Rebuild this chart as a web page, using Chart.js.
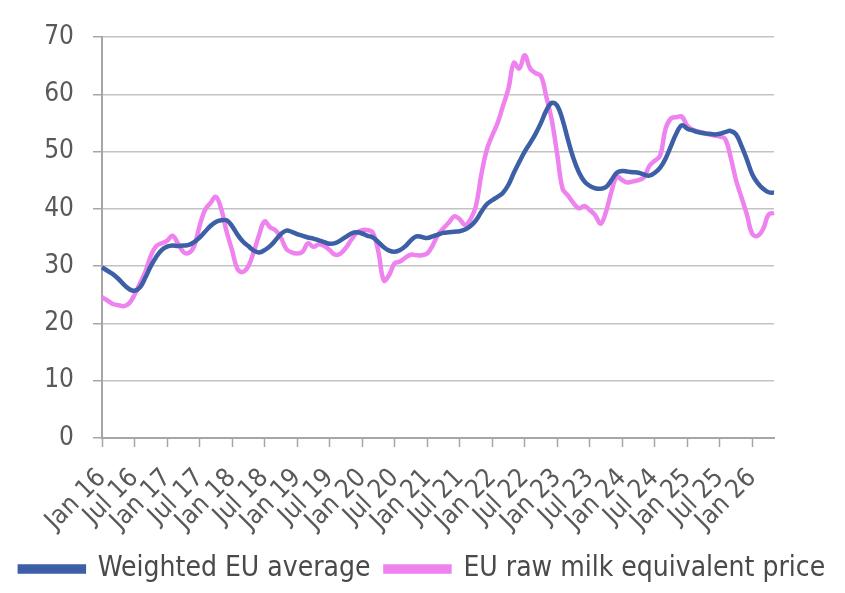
<!DOCTYPE html>
<html>
<head>
<meta charset="utf-8">
<script src="https://cdn.jsdelivr.net/npm/chart.js@4/dist/chart.umd.min.js"></script>
<style>
html,body{margin:0;padding:0;background:#fff;}
#wrap{width:845px;height:593px;position:relative;}
</style>
</head>
<body>
<div id="wrap"><canvas id="c" width="845" height="593"></canvas></div>
<script>
// Month names and years used to build monthly category labels (Jan 16 .. May 26)
const monthNames = ["Jan","Feb","Mar","Apr","May","Jun","Jul","Aug","Sep","Oct","Nov","Dec"];
const years = ["16","17","18","19","20","21","22","23","24","25","26"];
const lastMonthOfLastYear = 5; // data runs through May 26

// Weighted EU average (monthly)
const weightedEU = [
 29.8,29.2,28.6,27.8,26.8,26.0,25.7,26.3,28.0,30.0,31.6,32.8,
 33.4,33.6,33.5,33.6,33.7,34.2,35.0,36.0,37.0,37.7,38.0,38.0,
 37.0,35.5,34.3,33.5,32.7,32.4,32.8,33.5,34.5,35.6,36.2,36.0,
 35.6,35.3,35.0,34.8,34.5,34.2,33.9,34.0,34.5,35.1,35.7,35.9,
 35.7,35.3,35.0,34.2,33.3,32.7,32.5,32.8,33.5,34.5,35.2,35.1,
 34.9,35.2,35.5,35.8,35.9,36.0,36.1,36.4,37.0,38.0,39.5,40.8,
 41.5,42.1,42.8,44.2,46.3,48.2,50.0,51.5,53.1,55.0,57.2,58.5,
 58.0,55.5,52.0,48.8,46.4,44.8,44.0,43.6,43.5,43.8,45.0,46.3,
 46.6,46.5,46.4,46.3,46.0,45.8,46.3,47.2,48.8,51.0,53.2,54.6,
 54.0,53.7,53.4,53.2,53.1,53.0,53.1,53.4,53.6,53.0,51.0,48.6,
 46.0,44.5,43.5,42.9,42.8
];

// EU raw milk equivalent price (monthly)
const rawMilkEquiv = [
 24.6,24.0,23.4,23.2,23.0,23.5,25.0,27.0,29.0,31.8,33.5,34.0,
 34.4,35.3,34.0,32.5,32.3,33.5,37.0,39.8,41.0,42.1,40.0,36.0,
 32.8,29.5,29.0,30.0,32.5,35.5,37.8,36.8,36.3,35.0,33.0,32.4,
 32.2,32.5,34.0,33.4,33.8,33.5,32.8,32.0,32.2,33.2,34.6,35.8,
 36.3,36.3,35.8,32.5,27.5,28.5,30.5,30.8,31.5,32.0,31.9,31.9,
 32.2,33.6,35.5,36.6,37.6,38.7,38.2,37.2,38.2,40.5,46.0,50.3,
 52.8,55.0,58.0,61.0,65.5,64.5,66.8,64.5,63.7,63.2,59.5,55.5,
 49.5,43.5,42.3,41.0,40.1,40.5,39.8,38.9,37.4,39.5,43.0,45.6,
 45.0,44.6,44.8,45.0,45.5,47.5,48.4,49.3,54.0,55.8,56.0,56.1,
 54.5,53.8,53.5,53.3,53.0,52.8,52.6,52.2,49.0,45.0,42.0,39.0,
 35.6,35.3,36.5,39.0,39.3
];

const seriesNames = ["Weighted EU average","EU raw milk equivalent price"];
const yTicks = [0,10,20,30,40,50,60,70];

const categories = [];
years.forEach((y, yi) => {
  monthNames.forEach((m, mi) => {
    if (yi === years.length - 1 && mi > lastMonthOfLastYear - 1) return;
    categories.push(m + " " + y);
  });
});

const FONT = "'DejaVu Sans Condensed', 'DejaVu Sans', sans-serif";
const axisGray = '#a6a6a6';
const gridGray = '#c3c3c3';
const labelInterval = 6;

new Chart(document.getElementById('c'), {
  type: 'line',
  data: {
    labels: categories,
    datasets: [
      {
        label: seriesNames[0],
        data: weightedEU,
        borderColor: '#3c5fa6',
        backgroundColor: '#3c5fa6',
        borderWidth: 4.5,
        pointRadius: 0,
        tension: 0.4
      },
      {
        label: seriesNames[1],
        data: rawMilkEquiv,
        borderColor: '#ee82ee',
        backgroundColor: '#ee82ee',
        borderWidth: 4.5,
        pointRadius: 0,
        tension: 0.4
      }
    ]
  },
  options: {
    responsive: false,
    animation: false,
    layout: { padding: { top: 37, right: 0, left: 0, bottom: 0 } },
    plugins: {
      tooltip: { enabled: false },
      legend: {
        position: 'bottom',
        labels: {
          font: { family: FONT, size: 28 },
          color: '#4a4a4a',
          boxWidth: 64,
          boxHeight: 5,
          padding: 15
        }
      }
    },
    scales: {
      x: {
        type: 'category',
        offset: false,
        border: { display: true, color: axisGray, width: 2 },
        grid: {
          drawOnChartArea: false,
          drawTicks: true,
          tickLength: 9,
          tickColor: ctx => (ctx.index % labelInterval === 0 ? axisGray : 'rgba(0,0,0,0)'),
          tickWidth: 1.5
        },
        ticks: {
          autoSkip: false,
          maxRotation: 45,
          minRotation: 45,
          padding: 16,
          color: '#595959',
          font: { family: FONT, size: 26 },
          callback: function(value, index) {
            return index % labelInterval === 0 ? this.getLabelForValue(value) : '';
          }
        },
        afterFit: s => { s.height = 102; }
      },
      y: {
        min: 0,
        max: 70,
        border: { display: true, color: axisGray, width: 2 },
        grid: {
          color: ctx => (ctx.tick && ctx.tick.value === 0 ? 'rgba(0,0,0,0)' : gridGray),
          lineWidth: 1.5,
          drawTicks: true,
          tickLength: 9,
          tickColor: axisGray,
          tickWidth: 1.5
        },
        afterBuildTicks: s => { s.ticks = yTicks.map(v => ({ value: v })); },
        ticks: {
          padding: 19,
          color: '#595959',
          font: { family: FONT, size: 26 }
        },
        afterFit: s => { s.width = 102; }
      },
      spacer: {
        type: 'linear',
        position: 'right',
        display: true,
        grid: { display: false, drawTicks: false },
        border: { display: false },
        ticks: { display: false },
        afterFit: s => { s.width = 71; }
      }
    }
  }
});
</script>
</body>
</html>
